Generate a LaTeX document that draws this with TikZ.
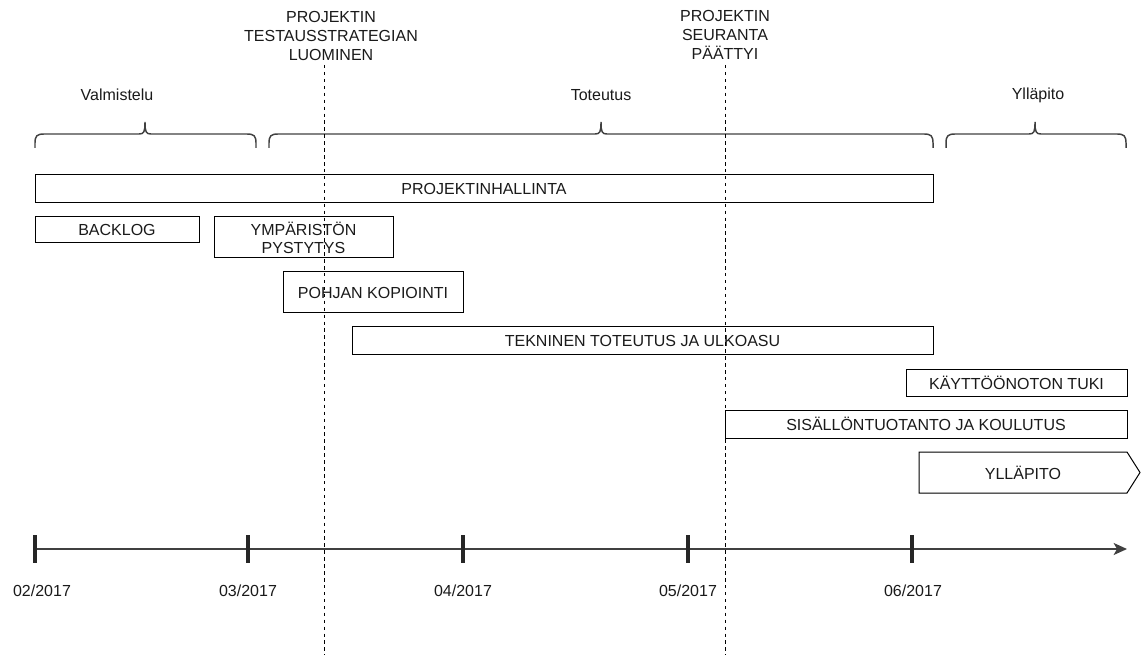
\documentclass[tikz,border=0pt]{standalone}
\usepackage{fontspec}
\setmainfont{Liberation Sans}
\usetikzlibrary{arrows.meta}
\definecolor{txt}{HTML}{1A1A1A}
\definecolor{axis}{HTML}{404040}
\tikzset{
  bar/.style={draw=black, line width=0.75pt, fill=white, rectangle, inner sep=0pt, align=center, text=txt,
    font=\fontsize{12}{13.5}\selectfont},
  lbl/.style={align=center, text=txt, inner sep=0pt, font=\fontsize{12}{14.25}\selectfont},
  phase/.style={draw=axis, line width=1.1pt},
  guide/.style={draw=black, line width=0.75pt, dash pattern=on 2.6pt off 2.6pt},
  tickmark/.style={draw=black!85, line width=2.3pt},
}
\newcommand{\phasebrace}[3]{%
  \draw[phase] (#1,148) -- (#1,143) .. controls (#1,136) and ({#1+2},134) .. ({#1+9},134)
    -- ({#3-6},134) .. controls ({#3-1},134) and (#3,132) .. (#3,122)
    .. controls (#3,132) and ({#3+1},134) .. ({#3+6},134)
    -- ({#2-9},134) .. controls ({#2-2},134) and (#2,136) .. (#2,143) -- (#2,148);}
\begin{document}
\begin{tikzpicture}[x=0.75pt, y=-0.75pt]
\useasboundingbox (0,0) rectangle (1144,655);

% top milestone labels
\node[lbl] (m1) at (331,36) {PROJEKTIN\\TESTAUSSTRATEGIAN\\LUOMINEN};
\node[lbl] (m2) at (725,35) {PROJEKTIN\\SEURANTA\\PÄÄTTYI};

% phase labels
\node[lbl] (p1) at (117,95) {Valmistelu};
\node[lbl] (p2) at (601,95) {Toteutus};
\node[lbl] (p3) at (1038,95) {Ylläpito};

% braces
\phasebrace{35}{256}{145}
\phasebrace{269}{933}{601}
\phasebrace{946}{1126}{1035}

% bars
\node[bar, minimum width=673.5pt, minimum height=21pt] (ph) at (484,189) {PROJEKTINHALLINTA};
\node[bar, minimum width=123pt, minimum height=19.5pt] (bl) at (117,230) {BACKLOG};
\node[bar, minimum width=134.25pt, minimum height=30.75pt] (yp) at (303.5,237.5) {YMPÄRISTÖN\\PYSTYTYS};
\node[bar, minimum width=135pt, minimum height=30.75pt] (pk) at (373,292.5) {POHJAN KOPIOINTI};
\node[bar, minimum width=435.75pt, minimum height=21pt] (tt) at (642.5,341) {TEKNINEN TOTEUTUS JA ULKOASU};
\node[bar, minimum width=165.75pt, minimum height=20.25pt] (kt) at (1016.5,382.5) {KÄYTTÖÖNOTON TUKI};
\node[bar, minimum width=301.5pt, minimum height=21pt] (sk) at (926,424) {SISÄLLÖNTUOTANTO JA KOULUTUS};
\draw[draw=black, line width=0.75pt, fill=white] (919,452) -- (1127,452) -- (1140,472.5) -- (1127,493) -- (919,493) -- cycle;
\node[lbl] (yl) at (1023,472.5) {YLLÄPITO};

% dashed milestone guides
\coordinate (g1t) at (324,65); \coordinate (g1b) at (324,655);
\coordinate (g2t) at (725,65); \coordinate (g2b) at (725,655);
\draw[guide] (g1t) -- (g1b);
\draw[guide] (g2t) -- (g2b);

% timeline
\coordinate (t0) at (35,549);
\coordinate (tend) at (1127,549);
\draw[draw=axis, line width=1.5pt, -{Stealth[length=10pt, width=9pt, inset=2.5pt]}] (t0) -- (tend);
\foreach \x/\n in {35/a,248/b,463/c,688/d,912/e}{
  \coordinate (tk\n) at (\x,549);
  \draw[tickmark] (\x,535) -- (\x,563);
}
\node[lbl] (d1) at (42,591) {02/2017};
\node[lbl] (d2) at (248,591) {03/2017};
\node[lbl] (d3) at (463,591) {04/2017};
\node[lbl] (d4) at (688,591) {05/2017};
\node[lbl] (d5) at (913,591) {06/2017};
\end{tikzpicture}
\end{document}
